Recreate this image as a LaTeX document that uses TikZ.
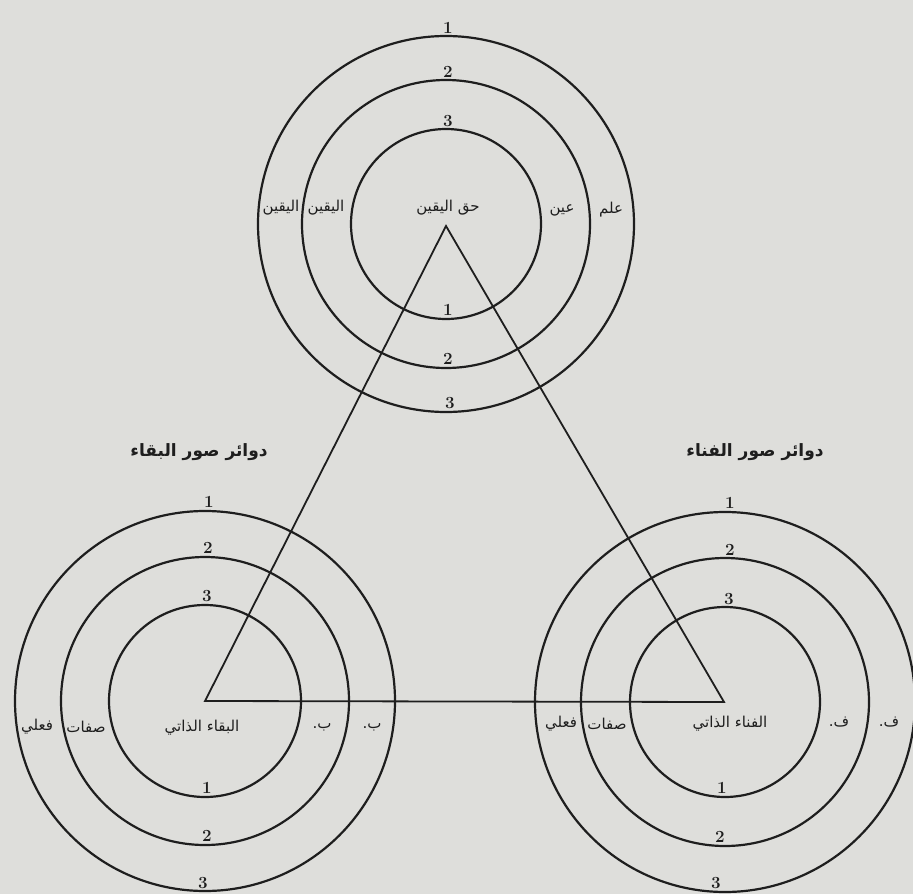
\documentclass[tikz,border=0pt]{standalone}
\usepackage{fontspec}
\newfontfamily\arabicfont[Script=Arabic]{DejaVu Sans}
\TeXXeTstate=1
\definecolor{paper}{RGB}{222,222,219}
\definecolor{ink}{RGB}{30,30,30}
\begin{document}
\begin{tikzpicture}[x=1pt,y=-1pt,
  ring/.style={draw=ink,line width=2.2pt},
  edge/.style={draw=ink,line width=1.8pt},
  ar/.style={font=\arabicfont\fontsize{15}{17}\selectfont,text=ink,inner sep=0pt},
  arh/.style={font=\arabicfont\bfseries\fontsize{17}{19}\selectfont,text=ink,inner sep=0pt},
  num/.style={font=\bfseries\fontsize{17}{19}\selectfont,text=ink,inner sep=0pt,anchor=south}]
\fill[paper] (0,0) rectangle (913,894);
\useasboundingbox (0,0) rectangle (913,894);

% ---------- top circles ----------
\coordinate (T) at (446,224);
\foreach \r in {95,144,188} \draw[ring] (T) circle[radius=\r pt];
\node[num] (t1) at (448,34) {1};
\node[num] (t2) at (448,78) {2};
\node[num] (t3) at (448,127) {3};
\node[num] (tb1) at (448,316) {1};
\node[num] (tb2) at (448,365) {2};
\node[num] (tb3) at (450,409) {3};
\node[ar] (tc) at (448,208) {\beginR حق اليقين\endR};
\node[ar] (tl1) at (281,208) {\beginR اليقين\endR};
\node[ar] (tl2) at (326,208) {\beginR اليقين\endR};
\node[ar] (tr2) at (562,210) {\beginR عين\endR};
\node[ar] (tr1) at (611,210) {\beginR علم\endR};

% ---------- bottom-left circles ----------
\coordinate (L) at (205,701);
\foreach \r in {96,144,190} \draw[ring] (L) circle[radius=\r pt];
\node[num] (l1) at (209,508) {1};
\node[num] (l2) at (208,554) {2};
\node[num] (l3) at (207,602) {3};
\node[num] (lb1) at (207,794) {1};
\node[num] (lb2) at (207,842) {2};
\node[num] (lb3) at (203,889) {3};
\node[ar] (lc) at (202,728) {\beginR البقاء الذاتي\endR};
\node[ar] (lm) at (86,727) {\beginR صفات\endR};
\node[ar] (lo) at (37,727) {\beginR فعلي\endR};
\node[ar] (lr2) at (322,727) {\beginR ب.\endR};
\node[ar] (lr1) at (372,727) {\beginR ب.\endR};
\node[arh] (lh) at (199,452) {\beginR دوائر صور البقاء\endR};

% ---------- bottom-right circles ----------
\coordinate (R) at (725,702);
\foreach \r in {95,144,190} \draw[ring] (R) circle[radius=\r pt];
\node[num] (r1) at (730,509) {1};
\node[num] (r2) at (730,556) {2};
\node[num] (r3) at (729,605) {3};
\node[num] (rb1) at (722,794) {1};
\node[num] (rb2) at (720,843) {2};
\node[num] (rb3) at (716,889) {3};
\node[ar] (rc) at (730,724) {\beginR الفناء الذاتي\endR};
\node[ar] (rm) at (607,724) {\beginR صفات\endR};
\node[ar] (ro) at (561,724) {\beginR فعلي\endR};
\node[ar] (rr2) at (839,722) {\beginR ف.\endR};
\node[ar] (rr1) at (889,722) {\beginR ف.\endR};
\node[arh] (rh) at (755,452) {\beginR دوائر صور الفناء\endR};

% ---------- triangle ----------
\coordinate (A) at (446,226);
\coordinate (B) at (205,701);
\coordinate (C) at (724,702);
\draw[edge,line join=miter] (A) -- (B) -- (C) -- cycle;
\end{tikzpicture}
\end{document}
